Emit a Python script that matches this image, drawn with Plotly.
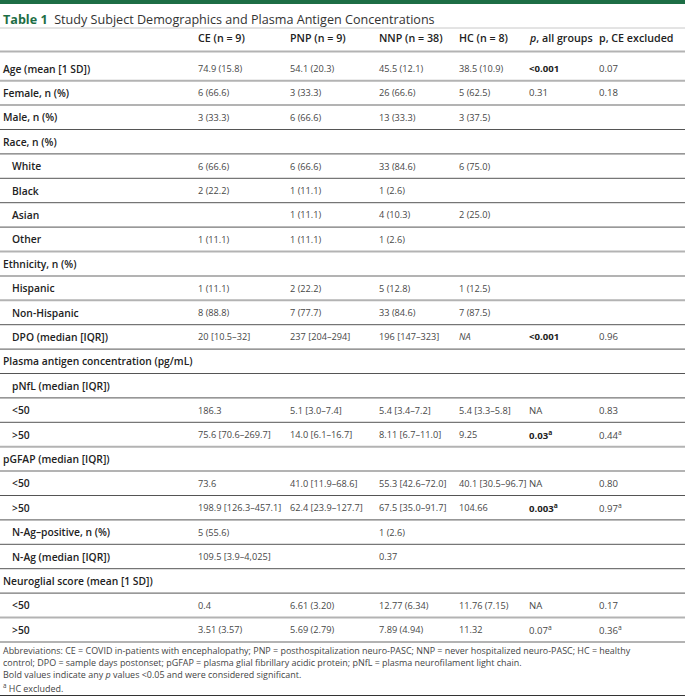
import plotly.graph_objects as go

# ---------------- data ----------------
col_headers = ["CE (n = 9)", "PNP (n = 9)", "NNP (n = 38)", "HC (n = 8)", "<i>p</i>, all groups", "p, CE excluded"]

row_labels = [
    "Age (mean [1 SD])", "Female, n (%)", "Male, n (%)", "Race, n (%)",
    "White", "Black", "Asian", "Other",
    "Ethnicity, n (%)", "Hispanic", "Non-Hispanic", "DPO (median [IQR])",
    "Plasma antigen concentration (pg/mL)", "pNfL (median [IQR])", "&lt;50", "&gt;50",
    "pGFAP (median [IQR])", "&lt;50", "&gt;50", "N-Ag–positive, n (%)", "N-Ag (median [IQR])",
    "Neuroglial score (mean [1 SD])", "&lt;50", "&gt;50",
]
row_indent = [0, 0, 0, 0, 1, 1, 1, 1, 0, 1, 1, 1, 0, 1, 1, 1, 0, 1, 1, 1, 1, 0, 1, 1]

ce = ["74.9 (15.8)", "6 (66.6)", "3 (33.3)", "", "6 (66.6)", "2 (22.2)", "", "1 (11.1)",
      "", "1 (11.1)", "8 (88.8)", "20 [10.5–32]", "", "", "186.3", "75.6 [70.6–269.7]",
      "", "73.6", "198.9 [126.3–457.1]", "5 (55.6)", "109.5 [3.9–4,025]", "", "0.4", "3.51 (3.57)"]
pnp = ["54.1 (20.3)", "3 (33.3)", "6 (66.6)", "", "6 (66.6)", "1 (11.1)", "1 (11.1)", "1 (11.1)",
       "", "2 (22.2)", "7 (77.7)", "237 [204–294]", "", "", "5.1 [3.0–7.4]", "14.0 [6.1–16.7]",
       "", "41.0 [11.9–68.6]", "62.4 [23.9–127.7]", "", "", "", "6.61 (3.20)", "5.69 (2.79)"]
nnp = ["45.5 (12.1)", "26 (66.6)", "13 (33.3)", "", "33 (84.6)", "1 (2.6)", "4 (10.3)", "1 (2.6)",
       "", "5 (12.8)", "33 (84.6)", "196 [147–323]", "", "", "5.4 [3.4–7.2]", "8.11 [6.7–11.0]",
       "", "55.3 [42.6–72.0]", "67.5 [35.0–91.7]", "1 (2.6)", "0.37", "", "12.77 (6.34)", "7.89 (4.94)"]
hc = ["38.5 (10.9)", "5 (62.5)", "3 (37.5)", "", "6 (75.0)", "", "2 (25.0)", "",
      "", "1 (12.5)", "7 (87.5)", "<i>NA</i>", "", "", "5.4 [3.3–5.8]", "9.25",
      "", "40.1 [30.5–96.7]", "104.66", "", "", "", "11.76 (7.15)", "11.32"]
p_all = ["&lt;0.001", "0.31", "", "", "", "", "", "", "", "", "", "&lt;0.001", "", "", "NA", "0.03",
         "", "NA", "0.003", "", "", "", "NA", "0.07"]
p_all_bold = [1, 0, 0, 0, 0, 0, 0, 0, 0, 0, 0, 1, 0, 0, 0, 1, 0, 0, 1, 0, 0, 0, 0, 0]
p_all_note = ["", "", "", "", "", "", "", "", "", "", "", "", "", "", "", "a", "", "", "a", "", "", "", "", "a"]
p_ce = ["0.07", "0.18", "", "", "", "", "", "", "", "", "", "0.96", "", "", "0.83", "0.44",
        "", "0.80", "0.97", "", "", "", "0.17", "0.36"]
p_ce_note = ["", "", "", "", "", "", "", "", "", "", "", "", "", "", "", "a", "", "", "a", "", "", "", "", "a"]

title_bold = "Table 1"
title_text = "Study Subject Demographics and Plasma Antigen Concentrations"
footnotes = [
    "Abbreviations: CE = COVID in-patients with encephalopathy; PNP = posthospitalization neuro-PASC; NNP = never hospitalized neuro-PASC; HC = healthy",
    "control; DPO = sample days postonset; pGFAP = plasma glial fibrillary acidic protein; pNfL = plasma neurofilament light chain.",
    "Bold values indicate any <i>p</i> values &lt;0.05 and were considered significant.",
    "<sup>a</sup> HC excluded.",
]

# ---------------- layout / style ----------------
W, H = 685, 696
GREEN = "#1d6e45"
LABEL_C = "#222222"
VAL_C = "#474747"
DARK_LINE = dict(color="#555555", width=1)
GRAY_LINE = dict(color="#b3b3b3", width=2)
sep_style = ["g", "g", "d", "d", "d", "d", "d", "g", "g", "g", "d", "d", "d", "d", "d", "g",
             "g", "d", "d", "d", "d", "d", "g", "g"]

col_x = [196, 288, 377, 457, 527, 597]
row0, pitch = 68.5, 24.4
header_y = 38

fig = go.Figure()
fig.add_trace(go.Scatter(x=[0, W], y=[0, H], mode="markers", marker=dict(opacity=0),
                         hoverinfo="skip", showlegend=False))

ann = []
shapes = []

def add_text(x, y, text, size=10, color=VAL_C, weight=400, anchor="left"):
    ann.append(dict(x=x, y=y, xref="x", yref="y", text=text, showarrow=False,
                    xanchor=anchor, yanchor="middle", align="left",
                    font=dict(family="Open Sans", size=size, color=color, weight=weight)))

# top green bar
shapes.append(dict(type="rect", xref="x", yref="y", x0=0, x1=W, y0=0, y1=4,
                   fillcolor=GREEN, line=dict(width=0)))
# title
add_text(1, 19, f"<span style='color:{GREEN}'><b>{title_bold}</b></span>  {title_text}",
         size=12.6, color="#333333")
shapes.append(dict(type="line", xref="x", yref="y", x0=0, x1=W, y0=28, y1=28,
                   line=dict(color="#c8c8c8", width=1)))
# headers
for cx, h in zip(col_x, col_headers):
    add_text(cx, header_y, h, size=10.7, color=LABEL_C, weight=600)
shapes.append(dict(type="line", xref="x", yref="y", x0=0, x1=W, y0=51.5, y1=51.5, line=GRAY_LINE))

cols = [ce, pnp, nnp, hc]
for i, lab in enumerate(row_labels):
    y = row0 + pitch * i
    add_text(1 + 9 * row_indent[i], y, lab, size=10.3, color=LABEL_C, weight=600)
    for c, vals in enumerate(cols):
        if vals[i]:
            add_text(col_x[c], y, vals[i], size=9.2, color=VAL_C)
    if p_all[i]:
        t = p_all[i] + (f"<sup>{p_all_note[i]}</sup>" if p_all_note[i] else "")
        add_text(col_x[4], y, t, size=9.6, color=LABEL_C if p_all_bold[i] else VAL_C,
                 weight=700 if p_all_bold[i] else 400)
    if p_ce[i]:
        t = p_ce[i] + (f"<sup>{p_ce_note[i]}</sup>" if p_ce_note[i] else "")
        add_text(col_x[5], y, t, size=9.6, color=VAL_C)
    ly = y + 12.2
    shapes.append(dict(type="line", xref="x", yref="y", x0=0, x1=W, y0=ly, y1=ly,
                       line=GRAY_LINE if sep_style[i] == "g" else DARK_LINE))

fy = 650
for k, f in enumerate(footnotes):
    add_text(1, fy + 12.4 * k + (0.8 if k == 3 else 0), f, size=8.95, color="#444444")
shapes.append(dict(type="line", xref="x", yref="y", x0=0, x1=W, y0=695.5, y1=695.5,
                   line=dict(color="#333333", width=1)))

fig.update_layout(
    width=W, height=H, margin=dict(l=0, r=0, t=0, b=0),
    paper_bgcolor="white", plot_bgcolor="white",
    xaxis=dict(range=[0, W], visible=False, fixedrange=True),
    yaxis=dict(range=[H, 0], visible=False, fixedrange=True),
    annotations=ann, shapes=shapes, showlegend=False,
)
fig.write_html("out.html", config={"displayModeBar": False},
               post_script="document.body.style.margin='0px';document.body.style.overflow='hidden';")
